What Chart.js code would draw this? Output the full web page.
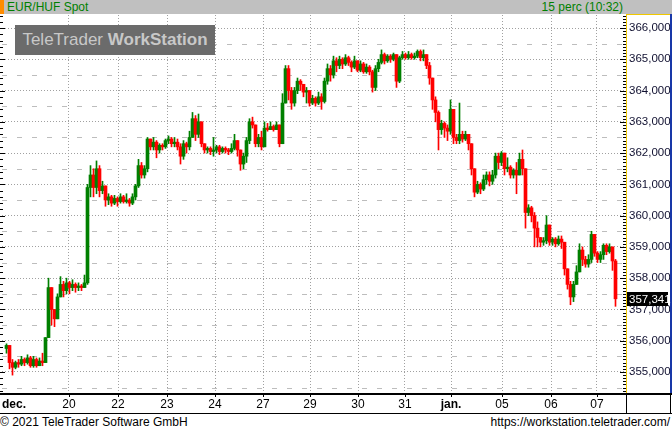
<!DOCTYPE html>
<html><head><meta charset="utf-8">
<script src="https://cdn.jsdelivr.net/npm/chart.js@4.4.0/dist/chart.umd.min.js"></script>
<style>
html,body{margin:0;padding:0;background:#fff;}
body{width:672px;height:431px;position:relative;overflow:hidden;font-family:"Liberation Sans",Arial,sans-serif;}
#hdr{position:absolute;left:0;top:0;width:672px;height:14px;background:#c0c0c0;}
#hdr .mark{position:absolute;left:0;top:0;width:4px;height:14px;background:#ff8c00;}
#hdr .l{position:absolute;left:7px;top:0;font-size:12px;line-height:14px;color:#008000;}
#hdr .r{position:absolute;right:49px;top:0;font-size:12px;line-height:14px;color:#008000;}
#cv{position:absolute;left:0;top:14px;}
#wm{position:absolute;left:15px;top:25px;width:200px;height:30px;background:#6b6b6b;color:#c8c8c8;font-size:17px;line-height:30px;text-align:center;white-space:nowrap;}
#ftl{position:absolute;left:0;top:415px;font-size:12px;line-height:15px;color:#000;}
#ftr{position:absolute;right:2px;top:415px;font-size:12px;line-height:15px;color:#000;}
</style></head>
<body>
<div id="hdr"><div class="mark"></div><div class="l">EUR/HUF Spot</div><div class="r">15 perc (10:32)</div></div>
<canvas id="cv" width="672" height="400"></canvas>
<div id="wm">TeleTrader <b>WorkStation</b></div>
<div id="ftl">© 2021 TeleTrader Software GmbH</div>
<div id="ftr">https://workstation.teletrader.com/</div>
<script>
// ---- data ----
const dayLabels = ['dec.','20','22','23','24','27','29','30','31','jan.','05','06','07'];
const dayTickPos = [3.5,21.83,38.17,54.5,70.5,86.5,102.17,118.17,133.83,149.17,166.17,182.5,197.83];
const priceTicks = [355,356,357,358,359,360,361,362,363,364,365,366];
const lastPrice = 357.341;
const firstOpen = 355.75;
const closes = [
355.85,355.3,355.15,355.3,355.25,355.4,355.3,355.45,355.2,355.4,
355.2,355.35,355.3,356.1,357.7,357.0,356.7,357.4,357.8,357.6,
357.85,357.7,357.8,357.7,357.75,357.7,357.85,360.9,361.3,360.9,
361.5,360.8,360.95,360.5,360.6,360.4,360.55,360.45,360.6,360.45,
360.5,360.4,360.6,360.95,361.6,361.3,361.5,362.45,362.2,362.35,
362.1,362.25,362.2,362.4,362.45,362.3,362.35,362.2,361.9,362.3,
362.2,362.5,363.1,362.6,363.0,362.3,362.1,362.15,362.05,362.1,
362.2,362.05,362.15,362.1,362.05,362.15,362.4,362.1,361.65,361.9,
362.4,363.0,362.9,362.3,362.5,362.2,362.8,362.75,362.85,362.75,
362.9,362.3,363.6,364.7,364.0,363.6,364.0,364.3,364.2,363.95,
364.0,363.6,363.75,363.6,363.8,363.65,364.3,364.7,364.5,364.95,
364.8,365.0,364.85,365.05,364.9,364.75,364.95,364.65,364.85,364.6,
364.75,364.6,364.1,364.7,364.9,365.15,364.95,365.1,365.0,365.15,
364.3,365.05,365.15,365.05,365.15,365.05,365.1,365.25,365.05,365.15,
364.8,364.4,363.7,363.3,362.75,362.95,362.8,362.7,363.4,362.5,
362.4,362.6,362.45,362.6,362.3,361.5,360.75,361.0,360.85,361.15,
361.3,361.1,361.3,361.9,361.7,362.0,361.5,361.55,361.3,361.45,
361.3,361.8,361.5,360.1,360.25,360.0,359.6,359.3,359.15,359.2,
359.7,359.15,359.25,359.1,359.25,359.15,358.3,357.8,357.4,357.8,
358.2,358.9,358.6,358.45,358.6,359.4,358.8,358.6,358.75,359.05,
358.85,359.0,358.55,357.341];
const highs = [
355.9,355.65,355.4,355.35,355.4,355.5,355.45,355.55,355.5,355.5,
355.45,355.45,355.6,356.1,358.0,357.7,357.0,357.5,358.05,357.9,
358.0,357.9,357.95,357.85,357.85,357.8,358.1,361.0,361.6,361.5,
361.75,361.6,361.1,360.9,360.7,360.65,360.65,360.6,360.7,360.65,
360.7,360.55,360.7,361.0,361.8,361.7,361.6,362.5,362.45,362.5,
362.4,362.3,362.3,362.45,362.55,362.5,362.5,362.45,362.3,362.4,
362.35,362.7,363.3,363.2,363.25,362.9,362.3,362.2,362.2,362.5,
362.25,362.25,362.2,362.2,362.15,362.3,362.6,362.4,362.0,362.0,
362.5,363.1,363.15,362.9,362.6,362.7,363.0,362.95,363.0,362.9,
363.0,362.9,363.9,364.8,364.8,364.1,364.1,364.4,364.35,364.2,
364.1,364.0,363.85,363.8,363.95,363.9,364.4,364.85,364.8,365.1,
365.05,365.1,365.05,365.15,365.1,364.95,365.1,364.95,364.95,364.9,
364.85,364.8,364.65,364.8,365.0,365.3,365.2,365.15,365.15,365.2,
365.15,365.1,365.25,365.2,365.25,365.2,365.2,365.3,365.3,365.3,
365.15,364.9,364.3,363.8,363.35,363.05,363.0,362.9,363.7,363.3,
362.6,363.6,362.7,362.7,362.6,362.2,361.5,361.1,361.05,361.3,
361.4,361.4,361.45,362.0,362.0,362.05,361.8,361.85,361.6,361.5,
361.7,362.0,362.1,361.5,360.35,360.3,360.1,359.8,359.25,359.3,
360.0,359.7,359.3,359.3,359.35,359.35,359.15,358.3,357.9,357.9,
358.4,359.1,359.0,358.7,358.75,359.5,359.4,358.85,358.85,359.1,
359.1,359.1,359.0,358.6];
const lows = [
355.6,355.1,354.9,355.1,355.15,355.2,355.2,355.25,355.15,355.15,
355.15,355.2,355.2,355.3,356.4,356.5,356.45,356.9,357.4,357.4,
357.5,357.5,357.6,357.55,357.6,357.6,357.7,357.8,360.6,360.6,
360.7,360.6,360.7,360.3,360.35,360.3,360.35,360.3,360.4,360.4,
360.4,360.3,360.35,360.5,360.9,361.2,361.2,361.4,362.1,362.1,
361.85,362.0,362.1,362.15,362.3,362.2,362.2,362.1,361.65,361.8,
362.0,362.1,362.5,362.4,362.5,362.2,362.0,362.0,361.95,361.9,
362.0,361.95,362.0,362.0,361.95,362.0,362.1,361.9,361.45,361.5,
361.7,362.3,362.8,362.2,362.2,362.1,362.2,362.7,362.75,362.7,
362.75,362.2,362.5,363.6,363.7,363.4,363.5,363.9,364.0,363.8,
363.6,363.5,363.55,363.5,363.55,363.4,363.6,364.2,364.3,364.4,
364.6,364.7,364.7,364.8,364.8,364.6,364.7,364.6,364.6,364.55,
364.55,364.5,363.95,364.0,364.6,364.85,364.85,364.9,364.9,364.95,
364.1,364.25,365.0,365.0,365.0,365.0,365.0,365.05,364.95,364.95,
364.7,364.2,363.4,363.0,362.1,362.6,362.5,362.4,362.6,362.3,
362.3,362.3,362.35,362.4,362.1,361.3,360.6,360.7,360.7,360.8,
361.0,360.95,361.0,361.2,361.5,361.6,361.3,361.4,361.2,361.2,
360.7,361.3,361.3,359.6,360.0,359.8,359.0,359.0,359.0,359.05,
359.1,359.05,359.05,359.0,359.05,358.95,358.1,357.65,357.15,357.25,
357.8,358.2,358.4,358.35,358.35,358.5,358.7,358.5,358.5,358.6,
358.75,358.8,358.25,357.1];

// ---- build ----
const UP = '#008000', DOWN = '#ff0000', FLAT = '#00c0c0';
const opens = closes.map((c,i) => i === 0 ? firstOpen : closes[i-1]);
const colors = closes.map((c,i) => c > opens[i] ? UP : (c < opens[i] ? DOWN : FLAT));
const bodies = closes.map((c,i) => ({x: i+1, y: [opens[i], c]}));
const wicks = closes.map((c,i) => ({x: i+1, y: [Math.min(lows[i], opens[i], c), Math.max(highs[i], opens[i], c)]}));
const FONT = '"Liberation Sans", Arial, sans-serif';

const decor = {
  id: 'decor',
  beforeDatasetsDraw(chart) {
    const {ctx, chartArea: a, scales: {y}} = chart;
    ctx.save();
    ctx.strokeStyle = '#bdbdbd'; ctx.lineWidth = 1; ctx.setLineDash([5,10]);
    priceTicks.concat([367]).forEach(v => {
      const hv = v - 0.5;
      if (hv < y.min || hv > y.max) return;
      const py = Math.round(y.getPixelForValue(hv)) + 0.5;
      ctx.beginPath(); ctx.moveTo(a.left, py); ctx.lineTo(a.right, py); ctx.stroke();
    });
    ctx.restore();
  },
  afterDraw(chart) {
    const {ctx, chartArea: a, scales: {x, y}} = chart;
    const W = chart.width;
    ctx.save();
    ctx.setLineDash([]);
    ctx.fillStyle = '#f0c800';
    ctx.fillRect(a.right, a.top - 1, 1, a.bottom - a.top + 1);
    ctx.fillRect(a.right, a.top - 1, W - a.right - 2, 1);
    ctx.fillStyle = '#1838a8';
    ctx.fillRect(W - 2, a.top - 1, 2, a.bottom - a.top + 1);
    ctx.fillStyle = '#000';
    for (let k = Math.ceil(y.min * 10); k <= Math.floor(y.max * 10); k++) {
      const py = Math.round(y.getPixelForValue(k / 10));
      const len = (k % 10 === 0) ? 6 : 3;
      ctx.fillRect(a.right - len, py, len, 1);
      if (k % 2 === 0) {
        const l2 = (k % 10 === 0) ? 5 : 3;
        ctx.fillRect(0, py, l2, 1);
      }
    }
    ctx.fillRect(0, a.bottom, W, 2);
    ctx.fillRect(0, a.bottom + 20, W, 1);
    ctx.fillRect(a.right, a.bottom, 1, 21);
    ctx.fillRect(W - 2, a.bottom, 1, 21);
    x.ticks.forEach((t, i) => {
      if (i === 0) return;
      const px = Math.round(x.getPixelForValue(t.value));
      ctx.fillRect(px, a.bottom + 2, 1, 2);
    });
    const py = Math.round(y.getPixelForValue(lastPrice));
    ctx.fillStyle = '#000';
    ctx.fillRect(a.right + 1, py - 7, 41, 14);
    ctx.fillStyle = '#fff';
    ctx.font = '11.5px ' + FONT;
    ctx.textBaseline = 'middle';
    ctx.textAlign = 'left';
    ctx.fillText(lastPrice.toFixed(3).replace('.', ','), a.right + 3, py + 1);
    ctx.restore();
  }
};

new Chart(document.getElementById('cv'), {
  type: 'bar',
  data: {
    datasets: [
      {data: wicks, backgroundColor: colors, barThickness: 1, grouped: false, order: 2, borderWidth: 0},
      {data: bodies, backgroundColor: colors, barThickness: 3, minBarLength: 1, grouped: false, order: 1, borderWidth: 0}
    ]
  },
  options: {
    responsive: false, animation: false, devicePixelRatio: 1,
    layout: {padding: {left: 2, top: 1, right: 0, bottom: 0}},
    plugins: {legend: {display: false}, tooltip: {enabled: false}},
    scales: {
      x: {
        type: 'linear', min: -0.5, max: 207.5, offset: false,
        afterBuildTicks: s => { s.ticks = dayTickPos.map(v => ({value: v})); },
        afterFit: s => { s.height = 21; s.paddingLeft = 0; s.paddingRight = 0; },
        ticks: {
          autoSkip: false, maxRotation: 0, minRotation: 0, padding: 4, color: '#000',
          font: c => ({family: FONT, size: 12, weight: (c.index === 0 || c.index === 9) ? 'bold' : 'normal'}),
          callback: (v, i) => dayLabels[i]
        },
        grid: {color: c => c.index === 0 ? 'rgba(0,0,0,0)' : '#a0a0a0', drawTicks: false, offset: false, lineWidth: 1},
        border: {display: false, dash: [1,2]}
      },
      y: {
        position: 'right', min: 354.328, max: 366.416, beginAtZero: false,
        afterBuildTicks: s => { s.ticks = priceTicks.map(v => ({value: v})); },
        afterFit: s => { s.width = 46; s.paddingTop = 0; s.paddingBottom = 0; },
        ticks: {padding: 3, color: '#101030', font: {family: FONT, size: 11.5},
          callback: v => Number(v).toFixed(3).replace('.', ',')},
        grid: {color: '#a0a0a0', drawTicks: false, lineWidth: 1},
        border: {display: false, dash: [1,2]}
      }
    }
  },
  plugins: [decor]
});
</script>
</body></html>
